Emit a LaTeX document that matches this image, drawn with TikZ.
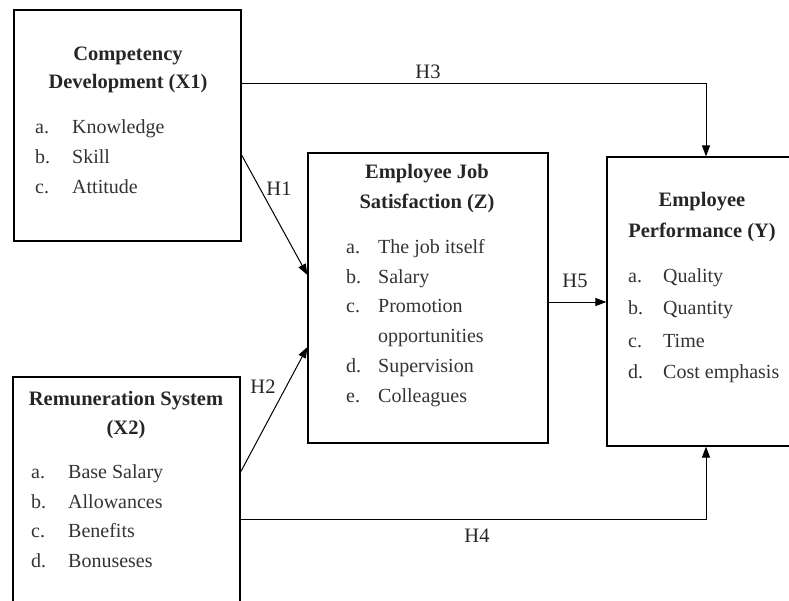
\documentclass[tikz,border=0pt]{standalone}
\usepackage{fontspec}
\setmainfont{Liberation Serif}
\usetikzlibrary{arrows.meta}

\tikzset{
  varbox/.style={draw, line width=1.2pt, inner sep=0pt},
  head/.style={font=\fontsize{20.5}{23}\selectfont\bfseries, anchor=base, inner sep=0pt, text=black!85},
  item/.style={font=\fontsize{20}{23}\selectfont, anchor=base west, inner sep=0pt, text=black!80},
  hlabel/.style={font=\fontsize{20.5}{23}\selectfont, inner sep=0pt, text=black!85},
  link/.style={line width=1pt, -{Triangle[length=11pt,width=8pt]}}
}

\begin{document}
\begin{tikzpicture}[x=1pt, y=-1pt]
        % 1. Page size (the two outer boxes run off the edge)
        \useasboundingbox (0,0) rectangle (789,600);
        \clip (0,0) rectangle (789,600);

        % 2. The variable boxes
        \node[varbox, minimum width=227pt, minimum height=231pt] (x1) at (127.5,125.5) {}; % Competency
        \node[varbox, minimum width=227pt, minimum height=248pt] (x2) at (126.5,501) {};   % Remuneration
        \node[varbox, minimum width=240pt, minimum height=290pt] (z)  at (428,298) {};     % Satisfaction
        \node[varbox, minimum width=198pt, minimum height=289pt] (y)  at (706,301.5) {};   % Performance

        % 3. Titles
        \node[head] (x1t1) at (128,60) {Competency};
        \node[head] (x1t2) at (128,88) {Development (X1)};
        \node[head] (x2t1) at (126,405) {Remuneration System};
        \node[head] (x2t2) at (126,434) {(X2)};
        \node[head] (zt1) at (427,178) {Employee Job};
        \node[head] (zt2) at (427,208) {Satisfaction (Z)};
        \node[head] (yt1) at (702,206) {Employee};
        \node[head] (yt2) at (702,237) {Performance (Y)};

        % 4. Indicator lists
        \foreach \lt/\txt/\yy in {a./Knowledge/133, b./Skill/163, c./Attitude/193}
            {\node[item] at (35,\yy) {\lt}; \node[item] at (72,\yy) {\txt};}
        \foreach \lt/\txt/\yy in {a./Base Salary/478, b./Allowances/508, c./Benefits/537, d./Bonuseses/567}
            {\node[item] at (31,\yy) {\lt}; \node[item] at (68,\yy) {\txt};}
        \foreach \lt/\txt/\yy in {a./The job itself/253, b./Salary/283, c./Promotion/312, /opportunities/342, d./Supervision/372, e./Colleagues/402}
            {\node[item] at (346,\yy) {\lt}; \node[item] at (378,\yy) {\txt};}
        \foreach \lt/\txt/\yy in {a./Quality/282, b./Quantity/314, c./Time/347, d./Cost emphasis/378}
            {\node[item] at (628,\yy) {\lt}; \node[item] at (663,\yy) {\txt};}

        % 5. Hypothesis paths
        \draw[link] ([yshift=42.5pt]x1.east) -| (y.north);
        \draw[link] ([yshift=-29.5pt]x1.east) -- ([yshift=23pt]z.west);
        \draw[link] ([yshift=29pt]x2.east) -- ([yshift=-49pt]z.west);
        \draw[link] ([yshift=-18pt]x2.east) -| (y.south);
        \draw[link] ([yshift=-4pt]z.east) -- ([yshift=-0.5pt]y.west);

        \node[hlabel] (h3) at (428,72) {H3};
        \node[hlabel] (h1) at (279,189) {H1};
        \node[hlabel] (h2) at (263,387) {H2};
        \node[hlabel] (h4) at (477,536) {H4};
        \node[hlabel] (h5) at (575,281) {H5};
\end{tikzpicture}
\end{document}
